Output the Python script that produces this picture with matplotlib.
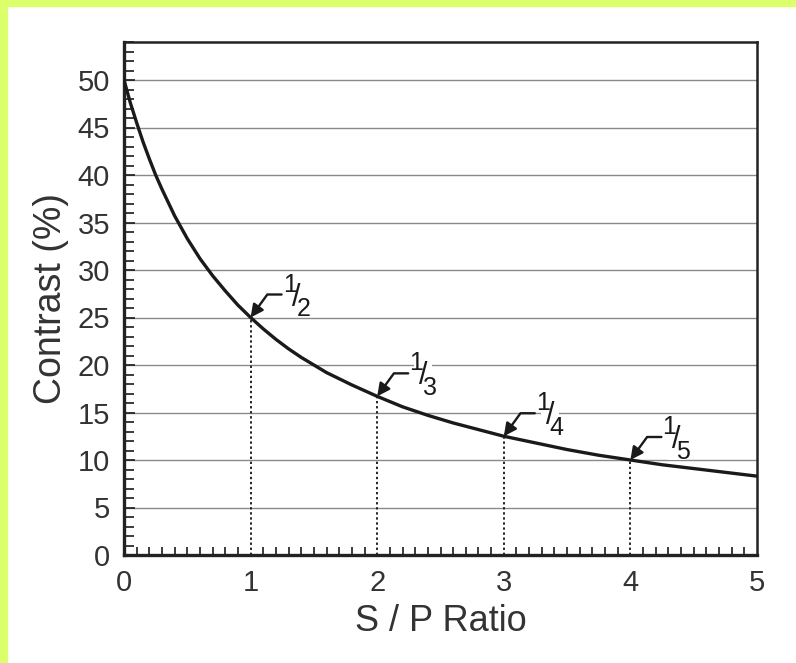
import numpy as np
import matplotlib.pyplot as plt
from matplotlib.patches import Rectangle
from matplotlib.ticker import MultipleLocator

plt.rcParams['font.family'] = ['Liberation Sans', 'DejaVu Sans']

# curve
sp_ratio = [0, 0.05, 0.1, 0.15, 0.2, 0.25, 0.3, 0.4, 0.5, 0.6, 0.7, 0.8, 0.9, 1.0,
            1.1, 1.2, 1.3, 1.4, 1.5, 1.6, 1.8, 2.0, 2.2, 2.4, 2.6, 2.8, 3.0, 3.25,
            3.5, 3.75, 4.0, 4.25, 4.5, 4.75, 5.0]
contrast = [50, 47.6, 45.5, 43.5, 41.7, 40.0, 38.5, 35.7, 33.3, 31.2, 29.4, 27.8,
            26.3, 25.0, 23.8, 22.7, 21.7, 20.8, 20.0, 19.2, 17.9, 16.7, 15.6, 14.7,
            13.9, 13.2, 12.5, 11.8, 11.1, 10.5, 10.0, 9.5, 9.1, 8.7, 8.3]

# marked points
mark_x = [1, 2, 3, 4]
mark_y = [25.0, 16.7, 12.5, 10.0]
mark_den = ['2', '3', '4', '5']

fig = plt.figure(figsize=(7.96, 6.63), dpi=100)
fig.patch.set_facecolor('white')
# yellow-green frame at top and left
fig.patches.append(Rectangle((0, 1 - 6 / 663), 1, 6 / 663, transform=fig.transFigure,
                             color='#dcff6c', zorder=0))
fig.patches.append(Rectangle((0, 0), 7 / 796, 1, transform=fig.transFigure,
                             color='#dcff6c', zorder=0))

ax = fig.add_axes([124 / 796, 108 / 663, 633 / 796, 513 / 663])
ax.set_xlim(0, 5)
ax.set_ylim(0, 54)

for yv in range(5, 55, 5):
    ax.axhline(yv, color='#8a8a8a', lw=1.0, zorder=1)

for xv, yv in zip(mark_x, mark_y):
    ax.plot([xv, xv], [0, yv], color='#222222', lw=1.4, ls=(0, (1.2, 1.4)), zorder=2)

ax.plot(sp_ratio, contrast, color='#1a1a1a', lw=2.4, zorder=4)

k = 0.72  # px -> pt
for xv, yv, d in zip(mark_x, mark_y, mark_den):
    ax.annotate('', xy=(xv, yv), xytext=(31 * k, 23 * k), textcoords='offset points',
                arrowprops=dict(arrowstyle='-|>', color='#1a1a1a', lw=1.7,
                                mutation_scale=19, shrinkA=0, shrinkB=0,
                                connectionstyle='angle,angleA=0,angleB=54,rad=0'),
                zorder=5)
    ax.annotate('/', xy=(xv, yv), xytext=(46 * k, 20 * k), textcoords='offset points',
                ha='center', va='center', fontsize=22, color='#1a1a1a', zorder=3,
                bbox=dict(boxstyle='square,pad=0.15', fc='white', ec='none'))
    ax.annotate('1', xy=(xv, yv), xytext=(39 * k, 33 * k), textcoords='offset points',
                ha='center', va='center', fontsize=18, color='#1a1a1a', zorder=5)
    ax.annotate(d, xy=(xv, yv), xytext=(53 * k, 8 * k), textcoords='offset points',
                ha='center', va='center', fontsize=18, color='#1a1a1a', zorder=5)

ax.xaxis.set_major_locator(MultipleLocator(1))
ax.xaxis.set_minor_locator(MultipleLocator(0.1))
ax.yaxis.set_major_locator(MultipleLocator(5))
ax.yaxis.set_minor_locator(MultipleLocator(1))
ax.tick_params(which='both', direction='in', colors='#1a1a1a', labelsize=21,
               labelcolor='#333333')
ax.tick_params(axis='x', which='major', length=0, pad=10)
ax.tick_params(axis='y', which='major', length=8, width=1.2, pad=10)
ax.tick_params(which='minor', length=7, width=1.2)
ax.tick_params(axis='x', which='minor', length=6)

for s in ['left', 'bottom']:
    ax.spines[s].set_linewidth(2.4)
for s in ['top', 'right']:
    ax.spines[s].set_linewidth(1.8)
for s in ax.spines.values():
    s.set_color('#222222')

ax.set_xlabel('S / P Ratio', fontsize=26, color='#333333', labelpad=5)
ax.set_ylabel('Contrast (%)', fontsize=27, color='#333333', labelpad=6)

fig.savefig('out.png', dpi=100)
